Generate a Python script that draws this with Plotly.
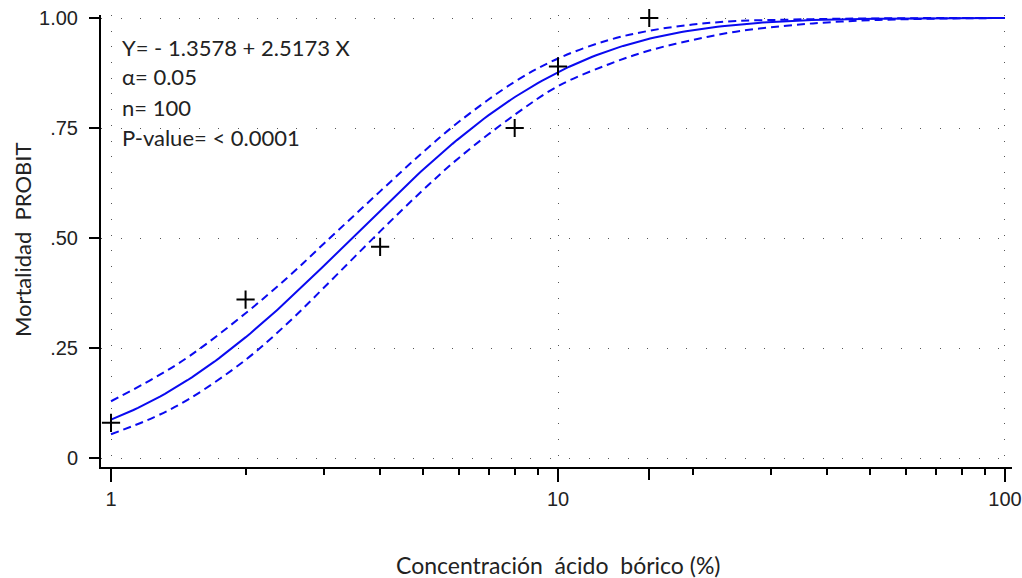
import math
import plotly.graph_objects as go

# Observed mortality at each boric acid concentration (%)
conc_obs = [1, 2, 4, 8, 10, 16]
mort_obs = [0.08, 0.36, 0.48, 0.75, 0.89, 1.00]

# Probit model: Y = a + b * log10(conc), mortality = Phi(Y)
intercept = -1.3578
slope = 2.5173

# 95% confidence limits of the fitted curve
conc_ci = [1, 1.25, 1.5, 2, 2.5, 3, 4, 5, 6, 8, 10, 13, 16, 20, 25, 32, 40, 50, 65, 100]
upper_ci = [0.129, 0.182, 0.232, 0.329, 0.413, 0.488, 0.606, 0.696, 0.764, 0.855,
            0.908, 0.950, 0.971, 0.985, 0.993, 0.996, 0.998, 0.999, 0.9997, 1.0]
lower_ci = [0.054, 0.093, 0.135, 0.223, 0.309, 0.388, 0.515, 0.610, 0.682, 0.780,
            0.845, 0.895, 0.926, 0.950, 0.969, 0.982, 0.990, 0.995, 0.998, 1.0]

y_ticks = [0, 0.25, 0.5, 0.75, 1.0]
y_labels = ["0", ".25", ".50", ".75", "1.00"]
x_ticks = [1, 10, 100]
x_labels = ["1", "10", "100"]
x_minor = [2, 3, 4, 5, 6, 7, 8, 9, 20, 30, 40, 50, 60, 70, 80, 90]

stats_lines = ["Y= - 1.3578 + 2.5173 X", "\u03b1= 0.05", "n= 100", "P-value= < 0.0001"]
x_title = "Concentraci\u00f3n  \u00e1cido  b\u00f3rico (%)"
y_title = "Mortalidad  PROBIT"


def probit_mortality(c):
    y = intercept + slope * math.log10(c)
    return 0.5 * (1.0 + math.erf(y / math.sqrt(2.0)))


n_pts = 200
conc_fit = [10 ** (2.0 * i / (n_pts - 1)) for i in range(n_pts)]
mort_fit = [probit_mortality(c) for c in conc_fit]

BLUE = "#0a0af0"
TEXT = "#222222"
LABEL_FONT = "Lato, sans-serif"

fig = go.Figure()
fig.add_trace(go.Scatter(x=conc_ci, y=upper_ci, mode="lines", line_shape="spline",
                         line=dict(color=BLUE, width=2, dash="8px,5px"), cliponaxis=False))
fig.add_trace(go.Scatter(x=conc_ci, y=lower_ci, mode="lines", line_shape="spline",
                         line=dict(color=BLUE, width=2, dash="8px,5px"), cliponaxis=False))
fig.add_trace(go.Scatter(x=conc_fit, y=mort_fit, mode="lines",
                         line=dict(color=BLUE, width=2), cliponaxis=False))
fig.add_trace(go.Scatter(x=conc_obs, y=mort_obs, mode="markers", cliponaxis=False,
                         marker=dict(symbol="cross-thin", size=13,
                                     line=dict(color="black", width=2))))

# extra unlabeled tick at 16 on an overlaid axis
fig.add_trace(go.Scatter(x=[16], y=[None], xaxis="x2", mode="markers", showlegend=False))

tick_font = dict(family="Liberation Sans, Arial, sans-serif", size=20, color=TEXT)
x_range = [-0.0224, 2.0157]

fig.update_layout(
    width=1022, height=578,
    margin=dict(l=101, r=10, t=15, b=111, autoexpand=False),
    paper_bgcolor="white", plot_bgcolor="white",
    showlegend=False,
    xaxis=dict(
        type="log", range=x_range, automargin=False,
        tickvals=x_ticks, ticktext=x_labels,
        ticks="outside", ticklen=13, tickwidth=2, tickcolor="black",
        showline=True, linecolor="black", linewidth=2,
        showgrid=True, gridcolor="#555555", gridwidth=1, griddash="1px,14.7px",
        zeroline=False, tickfont=tick_font, ticklabelstandoff=0,
        minor=dict(tickvals=x_minor, ticks="outside", ticklen=6, tickwidth=1.5,
                   tickcolor="black", showgrid=False),
    ),
    xaxis2=dict(
        type="log", range=x_range, overlaying="x", anchor="y", side="bottom",
        automargin=False,
        tickvals=[16], ticktext=[""], ticks="outside", ticklen=12, tickwidth=2,
        tickcolor="black", showgrid=False, showline=False, zeroline=False,
    ),
    yaxis=dict(
        range=[-0.02045, 1.00682], automargin=False,
        tickvals=y_ticks, ticktext=y_labels,
        ticks="outside", ticklen=10, tickwidth=2, tickcolor="black",
        showline=True, linecolor="black", linewidth=2,
        showgrid=True, gridcolor="#555555", gridwidth=1, griddash="1px,18.5px",
        zeroline=False, tickfont=tick_font, ticklabelstandoff=7,
    ),
)

# axis titles
fig.add_annotation(text=x_title, xref="paper", yref="paper", x=0.502, y=-0.2168,
                   xanchor="center", yanchor="middle", showarrow=False,
                   font=dict(family=LABEL_FONT, size=23, color=TEXT))
fig.add_annotation(text=y_title, xref="paper", yref="paper", x=-0.0867, y=0.502,
                   xanchor="center", yanchor="middle", showarrow=False, textangle=-90,
                   font=dict(family=LABEL_FONT, size=22, color=TEXT))

# model summary block
line_y = [0.929, 0.863, 0.796, 0.728]
for txt, yy in zip(stats_lines, line_y):
    fig.add_annotation(text=txt, xref="paper", yref="paper", x=0.0209, y=yy,
                       xanchor="left", yanchor="middle", showarrow=False,
                       font=dict(family=LABEL_FONT, size=22, color=TEXT))

fig.write_html("out.html")
